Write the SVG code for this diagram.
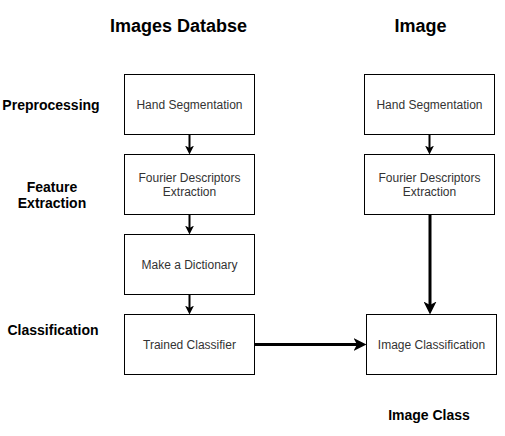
<svg xmlns="http://www.w3.org/2000/svg" width="505" height="436" viewBox="0 0 505 436">
<defs>
<style>
.box{fill:#fff;stroke:#000;stroke-width:1}
.nt{font-family:"Liberation Sans",Arial,sans-serif;font-size:12px;fill:#333;text-anchor:middle}
.title{font-family:"Liberation Sans",Arial,sans-serif;font-size:18px;font-weight:bold;fill:#000;text-anchor:middle}
.lab{font-family:"Liberation Sans",Arial,sans-serif;font-size:14px;font-weight:bold;fill:#000;text-anchor:middle}
.thin{stroke:#000;stroke-width:2;fill:none;marker-end:url(#ahS)}
.thick{stroke:#000;stroke-width:3;fill:none;marker-end:url(#ahL)}
</style>
<marker id="ahS" markerUnits="userSpaceOnUse" viewBox="0 0 9 9" markerWidth="9" markerHeight="9" refX="3" refY="4.5" orient="auto"><path d="M0,0 L9,4.5 L0,9 L2.5,4.5 z" fill="#000"/></marker>
<marker id="ahL" markerUnits="userSpaceOnUse" viewBox="0 0 13 13" markerWidth="13" markerHeight="13" refX="4" refY="6.5" orient="auto"><path d="M0,0 L13,6.5 L0,13 L3.5,6.5 z" fill="#000"/></marker>
</defs>
<rect width="505" height="436" fill="#fff"/>
<g id="labels">
<text class="title" x="178.5" y="32">Images Databse</text>
<text class="title" x="420.5" y="32">Image</text>
<text class="lab" x="51" y="110">Preprocessing</text>
<text class="lab" x="52" y="192">Feature</text>
<text class="lab" x="52" y="208">Extraction</text>
<text class="lab" x="53" y="335">Classification</text>
<text class="lab" x="429" y="420">Image Class</text>
</g>
<g id="connectors">
<line class="thin" x1="189.5" y1="134.5" x2="189.5" y2="148.5"/>
<line class="thin" x1="189.5" y1="214.5" x2="189.5" y2="228.5"/>
<line class="thin" x1="189.5" y1="294.5" x2="189.5" y2="308.5"/>
<line class="thin" x1="429.5" y1="134.5" x2="429.5" y2="148.5"/>
<line class="thick" x1="430" y1="214.5" x2="430" y2="305.5"/>
<line class="thick" x1="254.5" y1="344.5" x2="357.5" y2="344.5"/>
</g>
<g id="n1"><rect class="box" x="124.5" y="74.5" width="130" height="60"/><text class="nt" x="189.5" y="109">Hand Segmentation</text></g>
<g id="n2"><rect class="box" x="124.5" y="154.5" width="130" height="60"/><text class="nt" x="189.5" y="182">Fourier Descriptors</text><text class="nt" x="189.5" y="196">Extraction</text></g>
<g id="n3"><rect class="box" x="124.5" y="234.5" width="130" height="60"/><text class="nt" x="189.5" y="269">Make a Dictionary</text></g>
<g id="n4"><rect class="box" x="124.5" y="314.5" width="130" height="60"/><text class="nt" x="189.5" y="349">Trained Classifier</text></g>
<g id="n5"><rect class="box" x="364.5" y="74.5" width="130" height="60"/><text class="nt" x="429.5" y="109">Hand Segmentation</text></g>
<g id="n6"><rect class="box" x="364.5" y="154.5" width="130" height="60"/><text class="nt" x="429.5" y="182">Fourier Descriptors</text><text class="nt" x="429.5" y="196">Extraction</text></g>
<g id="n7"><rect class="box" x="366.5" y="314.5" width="130" height="60"/><text class="nt" x="431.5" y="349">Image Classification</text></g>
</svg>
